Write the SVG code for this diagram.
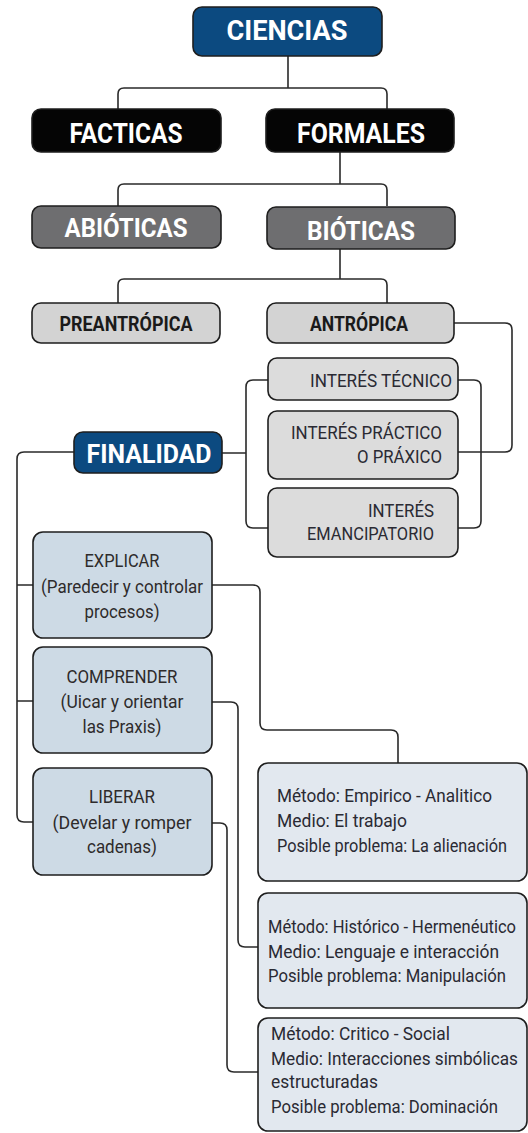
<svg xmlns="http://www.w3.org/2000/svg" width="528" height="1133" viewBox="0 0 528 1133">
<style>
.box{stroke:#1e1e1e;stroke-width:1.6}
.blue{fill:#0c4a80}
.black{fill:#050505}
.dgray{fill:#6e6e70}
.lgray{fill:#d3d3d3}
.igray{fill:#dcdcdc}
.lblue{fill:#cddae5}
.mblue{fill:#e2e8ef}
.hd{font-family:Roboto,"Liberation Sans",sans-serif;font-weight:bold;fill:#fff;text-anchor:middle}
.hdk{font-family:Roboto,"Liberation Sans",sans-serif;font-weight:bold;fill:#1a1a1a;text-anchor:middle}
.it{font-family:Roboto,"Liberation Sans",sans-serif;font-size:19px;fill:#2a2a33;text-anchor:end}
.lt{font-family:Roboto,"Liberation Sans",sans-serif;font-size:18px;fill:#2e2b2b;text-anchor:middle}
.mt{font-family:Roboto,"Liberation Sans",sans-serif;font-size:18px;fill:#2a2a33}
.cn{fill:none;stroke:#2a2a2a;stroke-width:1.6}
</style>
<g id="connectors" class="cn">
<path d="M288,56 V88 M118,109 V94 Q118,88 124,88 H381 Q387,88 387,94 V109"/>
<path d="M340,152 V184 M118,206 V190 Q118,184 124,184 H381 Q387,184 387,190 V206"/>
<path d="M340,249 V279 M118,303 V285 Q118,279 124,279 H381 Q387,279 387,285 V303"/>
<path d="M454,323 H505 Q512,323 512,330 V445 Q512,452 505,452 H458"/>
<path d="M222,453 H246 M268,380 H253 Q246,380 246,387 V521 Q246,528 253,528 H268"/>
<path d="M458,380 H474 Q481,380 481,387 V521 Q481,528 474,528 H458"/>
<path d="M74,452 H24 Q17,452 17,459 V815 Q17,822 24,822 H33 M17,585 H33 M17,701 H33"/>
<path d="M212,585 H253 Q260,585 260,592 V723 Q260,730 267,730 H391 Q398,730 398,737 V763"/>
<path d="M212,702 H231 Q238,702 238,709 V940 Q238,947 245,947 H258"/>
<path d="M212,823 H220 Q227,823 227,830 V1065 Q227,1072 234,1072 H258"/>
</g>
<g id="ciencias"><rect class="box blue" x="193" y="7" width="189" height="49" rx="9"/><text class="hd" x="287" y="40" font-size="28" textLength="121" lengthAdjust="spacingAndGlyphs">CIENCIAS</text></g>
<g id="facticas"><rect class="box black" x="32" y="109" width="189" height="43" rx="9"/><text class="hd" x="126" y="143" font-size="28" textLength="113" lengthAdjust="spacingAndGlyphs">FACTICAS</text></g>
<g id="formales"><rect class="box black" x="266" y="109" width="188" height="43" rx="9"/><text class="hd" x="361" y="143" font-size="28" textLength="128" lengthAdjust="spacingAndGlyphs">FORMALES</text></g>
<g id="abioticas"><rect class="box dgray" x="32" y="206" width="189" height="42" rx="9"/><text class="hd" x="126" y="237" font-size="25" textLength="123" lengthAdjust="spacingAndGlyphs">ABIÓTICAS</text></g>
<g id="bioticas"><rect class="box dgray" x="267" y="207" width="188" height="42" rx="9"/><text class="hd" x="361" y="240" font-size="25" textLength="108" lengthAdjust="spacingAndGlyphs">BIÓTICAS</text></g>
<g id="preantropica"><rect class="box lgray" x="32" y="303" width="188" height="40" rx="9"/><text class="hdk" x="126" y="331" font-size="21" textLength="133" lengthAdjust="spacingAndGlyphs">PREANTRÓPICA</text></g>
<g id="antropica"><rect class="box lgray" x="267" y="303" width="187" height="40" rx="9"/><text class="hdk" x="359" y="331" font-size="21" textLength="98" lengthAdjust="spacingAndGlyphs">ANTRÓPICA</text></g>
<g id="interes-tecnico"><rect class="box igray" x="268" y="358" width="190" height="42" rx="9"/><text class="it" x="452" y="387" textLength="142" lengthAdjust="spacingAndGlyphs">INTERÉS TÉCNICO</text></g>
<g id="interes-practico"><rect class="box igray" x="268" y="411" width="190" height="68" rx="9"/><text class="it" x="442" y="439" textLength="151" lengthAdjust="spacingAndGlyphs">INTERÉS PRÁCTICO</text><text class="it" x="442" y="463" textLength="85" lengthAdjust="spacingAndGlyphs">O PRÁXICO</text></g>
<g id="interes-emancipatorio"><rect class="box igray" x="268" y="488" width="190" height="69" rx="9"/><text class="it" x="434" y="517" textLength="66" lengthAdjust="spacingAndGlyphs">INTERÉS</text><text class="it" x="434" y="540" textLength="127" lengthAdjust="spacingAndGlyphs">EMANCIPATORIO</text></g>
<g id="finalidad"><rect class="box blue" x="74" y="432" width="148" height="41" rx="9"/><text class="hd" x="149" y="463" font-size="25" textLength="125" lengthAdjust="spacingAndGlyphs">FINALIDAD</text></g>
<g id="explicar"><rect class="box lblue" x="33" y="532" width="179" height="106" rx="10"/><text class="lt" x="122" y="567" textLength="75" lengthAdjust="spacingAndGlyphs">EXPLICAR</text><text class="lt" x="122" y="593" textLength="162" lengthAdjust="spacingAndGlyphs">(Paredecir y controlar</text><text class="lt" x="122" y="618" textLength="75" lengthAdjust="spacingAndGlyphs">procesos)</text></g>
<g id="comprender"><rect class="box lblue" x="33" y="647" width="179" height="106" rx="10"/><text class="lt" x="122" y="683" textLength="111" lengthAdjust="spacingAndGlyphs">COMPRENDER</text><text class="lt" x="122" y="708" textLength="123" lengthAdjust="spacingAndGlyphs">(Uicar y orientar</text><text class="lt" x="122" y="733" textLength="79" lengthAdjust="spacingAndGlyphs">las Praxis)</text></g>
<g id="liberar"><rect class="box lblue" x="33" y="768" width="179" height="107" rx="10"/><text class="lt" x="122" y="803" textLength="66" lengthAdjust="spacingAndGlyphs">LIBERAR</text><text class="lt" x="122" y="829" textLength="139" lengthAdjust="spacingAndGlyphs">(Develar y romper</text><text class="lt" x="122" y="853" textLength="70" lengthAdjust="spacingAndGlyphs">cadenas)</text></g>
<g id="metodo-1"><rect class="box mblue" x="258" y="763" width="269" height="118" rx="10"/><text class="mt" x="277" y="802" textLength="215" lengthAdjust="spacingAndGlyphs">Método: Empirico - Analitico</text><text class="mt" x="277" y="827" textLength="130" lengthAdjust="spacingAndGlyphs">Medio: El trabajo</text><text class="mt" x="277" y="852" font-size="16" textLength="230" lengthAdjust="spacingAndGlyphs">Posible problema: La alienación</text></g>
<g id="metodo-2"><rect class="box mblue" x="258" y="893" width="269" height="115" rx="10"/><text class="mt" x="268" y="933" font-size="16" textLength="248" lengthAdjust="spacingAndGlyphs">Método: Histórico - Hermenéutico</text><text class="mt" x="268" y="958" textLength="231" lengthAdjust="spacingAndGlyphs">Medio: Lenguaje e interacción</text><text class="mt" x="268" y="982" textLength="238" lengthAdjust="spacingAndGlyphs">Posible problema: Manipulación</text></g>
<g id="metodo-3"><rect class="box mblue" x="258" y="1018" width="269" height="113" rx="10"/><text class="mt" x="271" y="1040" textLength="179" lengthAdjust="spacingAndGlyphs">Método: Critico - Social</text><text class="mt" x="271" y="1065" textLength="247" lengthAdjust="spacingAndGlyphs">Medio: Interacciones simbólicas</text><text class="mt" x="271" y="1088" textLength="107" lengthAdjust="spacingAndGlyphs">estructuradas</text><text class="mt" x="271" y="1113" textLength="227" lengthAdjust="spacingAndGlyphs">Posible problema: Dominación</text></g>
</svg>
